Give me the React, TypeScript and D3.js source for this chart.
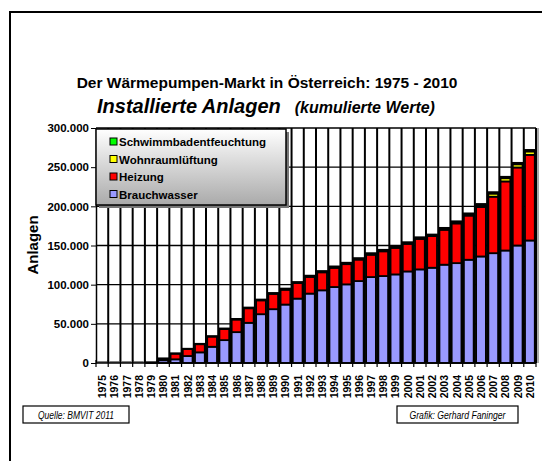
import React, { useEffect, useRef } from 'react';
import * as d3 from 'd3';

const years = d3.range(1975, 2011).map(String);

// kumulierte Anlagen je Jahr
const brauchwasser = [
  0, 0, 0, 0, 500, 3500, 4700, 8900, 13600, 20700, 29200, 39400, 51300, 62300, 68700,
  74600, 82200, 88600, 92800, 97000, 100400, 104600, 109700, 111000, 113100,
  116900, 119500, 121600, 125500, 127500, 131800, 136000, 140200, 143600, 150000, 156400,
];
const heizung = [
  0, 0, 0, 0, 300, 2000, 7200, 8900, 10400, 13000, 14200, 16100, 18600, 17700, 19600,
  19100, 19800, 21400, 23000, 24600, 25800, 27500, 28600, 31600, 34000,
  35300, 39000, 40400, 44600, 50700, 56400, 63200, 72100, 88200, 99600, 109300,
];
const wohnraum = [
  0, 0, 0, 0, 0, 0, 0, 0, 0, 0, 0, 0, 0, 0, 0,
  100, 100, 200, 200, 300, 300, 300, 400, 400, 400,
  400, 400, 400, 700, 1000, 1100, 2100, 4000, 4100, 4100, 4400,
];
const schwimmbad = [
  0, 0, 0, 0, 0, 300, 400, 400, 500, 600, 700, 800, 900, 1000, 1100,
  1200, 1300, 1300, 1400, 1400, 1500, 1500, 1500, 1500, 1600,
  1600, 1600, 1600, 1700, 1700, 1700, 1700, 1800, 1800, 1800, 1900,
];

const seriesNames = ['Brauchwasser', 'Heizung', 'Wohnraumlüftung', 'Schwimmbadentfeuchtung'];
const seriesColors = ['#9999ff', '#ff0000', '#ffff00', '#00ff00'];
const yTicks = [0, 50000, 100000, 150000, 200000, 250000, 300000];

const W = 542, H = 461;
const font = 'Arial, "Liberation Sans", sans-serif';

export default function App() {
  const ref = useRef<SVGSVGElement>(null);

  useEffect(() => {
    const svg = d3.select(ref.current);
    svg.selectAll('*').remove();

    const left = 96, right = 536, plotTop = 128, bottom = 363;

    const x = d3.scaleBand().domain(years).range([left, right]).paddingInner(0.2).paddingOuter(0.1);
    const y = d3.scaleLinear().domain([0, 300000]).range([bottom, plotTop]);
    // category boundaries (right edge of each category slot)
    const gap = (x.step() - x.bandwidth()) / 2;
    const bounds = years.map(yr => (x(yr) as number) + x.bandwidth() + gap);

    const table = years.map((yr, i) => ({
      year: yr,
      Brauchwasser: brauchwasser[i],
      Heizung: heizung[i],
      'Wohnraumlüftung': wohnraum[i],
      Schwimmbadentfeuchtung: schwimmbad[i],
    }));
    const stacked = d3.stack<any>().keys(seriesNames)(table);

    // outer frame
    svg.append('rect').attr('x', 10).attr('y', 12).attr('width', 560).attr('height', 470)
      .attr('fill', 'none').attr('stroke', '#000').attr('stroke-width', 2);

    // titles
    svg.append('text').attr('x', 267).attr('y', 88).attr('text-anchor', 'middle')
      .style('font', `bold 15.5px ${font}`).text('Der Wärmepumpen-Markt in Österreich: 1975 - 2010');
    const sub = svg.append('text').attr('x', 97).attr('y', 113)
      .style('font-family', font).style('font-weight', 'bold').style('font-style', 'italic');
    sub.append('tspan').style('font-size', '20px').text('Installierte Anlagen');
    sub.append('tspan').attr('dx', 14).style('font-size', '16px').text('(kumulierte Werte)');

    // grid
    const grid = svg.append('g');
    grid.selectAll('line.hg').data(yTicks.slice(1)).enter().append('line')
      .attr('class', 'hg')
      .attr('x1', left).attr('x2', right)
      .attr('y1', d => y(d)).attr('y2', d => y(d))
      .attr('stroke', '#000').attr('stroke-width', 1.3);
    grid.selectAll('line.vg').data(bounds).enter().append('line')
      .attr('class', 'vg')
      .attr('x1', d => d).attr('x2', d => d)
      .attr('y1', plotTop).attr('y2', bottom)
      .attr('stroke', '#000').attr('stroke-width', 2);
    grid.append('line').attr('x1', right + 2).attr('x2', right + 2).attr('y1', plotTop).attr('y2', bottom)
      .attr('stroke', '#aaa').attr('stroke-width', 2);

    // bars
    stacked.forEach((layer, k) => {
      svg.append('g').selectAll('rect').data(layer.filter(d => d[1] - d[0] > 0)).enter().append('rect')
        .attr('x', d => x(d.data.year) as number)
        .attr('width', x.bandwidth())
        .attr('y', d => y(d[1]))
        .attr('height', d => y(d[0]) - y(d[1]))
        .attr('fill', seriesColors[k])
        .attr('stroke', '#000').attr('stroke-width', 1.8);
    });
    // empty years: baseline marks
    svg.append('g').selectAll('line').data(table.filter(d => d.Brauchwasser === 0)).enter().append('line')
      .attr('x1', d => x(d.year) as number).attr('x2', d => (x(d.year) as number) + x.bandwidth())
      .attr('y1', bottom - 1).attr('y2', bottom - 1).attr('stroke', '#000').attr('stroke-width', 1);

    // y axis
    const ya = svg.append('g').attr('transform', `translate(${left},0)`)
      .call(d3.axisLeft(y).tickValues(yTicks).tickSize(5).tickSizeOuter(0)
        .tickFormat(d => d3.format(',')(d as number).replace(/,/g, '.')));
    ya.select('.domain').attr('stroke-width', 1.5);
    ya.selectAll('text').style('font', `bold 11.5px ${font}`).attr('x', -7);

    // x axis
    svg.append('line').attr('x1', left).attr('x2', right).attr('y1', bottom).attr('y2', bottom)
      .attr('stroke', '#000').attr('stroke-width', 1.5);
    svg.append('g').selectAll('line').data([left, ...bounds]).enter().append('line')
      .attr('x1', d => d).attr('x2', d => d).attr('y1', bottom - 3).attr('y2', bottom + 4)
      .attr('stroke', '#000').attr('stroke-width', 1.2);
    svg.append('g').selectAll('text').data(years).enter().append('text')
      .attr('transform', d => `translate(${(x(d) as number) + x.bandwidth() / 2 + 4},375) rotate(-90)`)
      .attr('text-anchor', 'end')
      .style('font', `bold 10.5px ${font}`).text(d => d);

    svg.append('text').attr('transform', 'translate(38,245) rotate(-90)').attr('text-anchor', 'middle')
      .style('font', `bold 15px ${font}`).text('Anlagen');

    // legend
    const defs = svg.append('defs');
    const grad = defs.append('linearGradient').attr('id', 'lg').attr('x1', 0).attr('y1', 0).attr('x2', 0).attr('y2', 1);
    grad.append('stop').attr('offset', '0%').attr('stop-color', '#ffffff');
    grad.append('stop').attr('offset', '100%').attr('stop-color', '#aaaaaa');
    const lg = svg.append('g').attr('transform', 'translate(96,129)');
    lg.append('rect').attr('x', 3).attr('y', 3).attr('width', 190).attr('height', 76).attr('fill', '#777');
    lg.append('rect').attr('width', 190).attr('height', 76).attr('fill', 'url(#lg)')
      .attr('stroke', '#000').attr('stroke-width', 1.5);
    const order = [3, 2, 1, 0];
    order.forEach((k, i) => {
      const yy = 13 + i * 17.5;
      lg.append('rect').attr('x', 14).attr('y', yy - 4).attr('width', 7).attr('height', 7)
        .attr('fill', seriesColors[k]).attr('stroke', '#000');
      lg.append('text').attr('x', 23).attr('y', yy + 4).style('font', `bold 11.5px ${font}`).text(seriesNames[k]);
    });

    // footer boxes
    const foot = (x0: number, w: number, label: string, len: number) => {
      svg.append('rect').attr('x', x0).attr('y', 406).attr('width', w).attr('height', 17)
        .attr('fill', '#fff').attr('stroke', '#000').attr('stroke-width', 1.2);
      svg.append('text').attr('x', x0 + w / 2).attr('y', 418.5).attr('text-anchor', 'middle')
        .attr('textLength', len).attr('lengthAdjust', 'spacingAndGlyphs')
        .style('font', `italic 11px "Liberation Sans Narrow", "Arial Narrow", ${font}`)
        .text(label);
    };
    foot(23, 106, 'Quelle: BMVIT 2011', 76);
    foot(397, 121, 'Grafik: Gerhard Faninger', 96);
  }, []);

  return (
    <svg ref={ref} width={W} height={H} style={{ position: 'absolute', left: 0, top: 0, background: '#fff' }} />
  );
}
